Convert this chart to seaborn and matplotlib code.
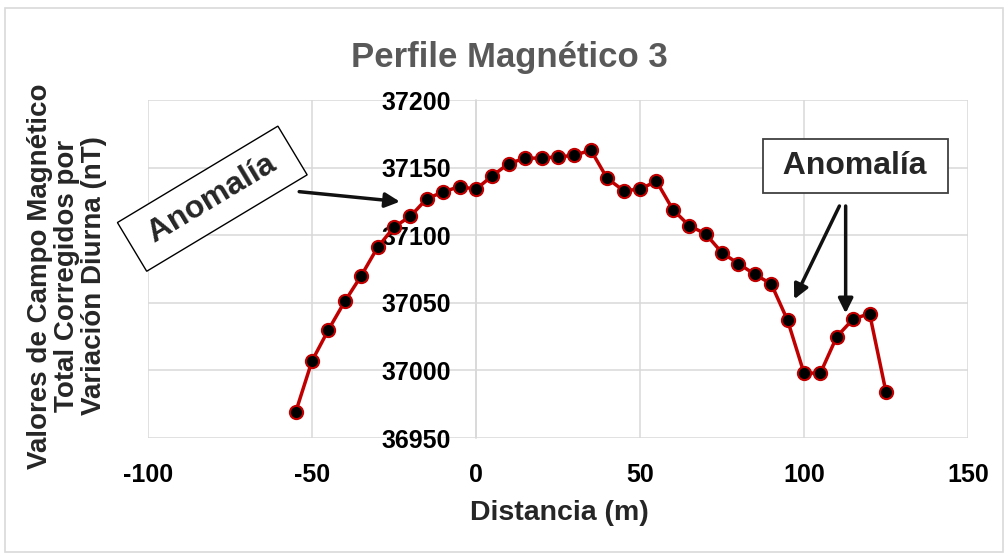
import numpy as np
import matplotlib
matplotlib.use('Agg')
import matplotlib.pyplot as plt
import seaborn as sns
from matplotlib.patches import Rectangle

# Perfil magnetico 3 - distancia (m) vs campo corregido (nT)
distancia = [-55, -50, -45, -40, -35, -30, -25, -20, -15, -10, -5, 0, 5, 10, 15,
             20, 25, 30, 35, 40, 45, 50, 55, 60, 65, 70, 75, 80, 85, 90, 95, 100,
             105, 110, 115, 120, 125]
campo = [36969, 37007, 37030, 37051, 37070, 37091, 37106, 37114, 37127, 37132,
         37136, 37134, 37144, 37153, 37157, 37157, 37158, 37159, 37163, 37142,
         37133, 37134, 37140, 37119, 37107, 37101, 37087, 37079, 37071, 37064,
         37037, 36998, 36998, 37025, 37038, 37042, 36984]

x_ticks = [-100, -50, 0, 50, 100, 150]
y_ticks = [36950, 37000, 37050, 37100, 37150, 37200]

titulo = 'Perfile Magnético 3'
x_label = 'Distancia (m)'
y_label = 'Valores de Campo Magnético\nTotal Corregidos por\nVariación Diurna (nT)'
nota = 'Anomalía'

sns.set_style('white')
plt.rcParams['font.family'] = ['Liberation Sans', 'DejaVu Sans']
plt.rcParams['font.weight'] = 'bold'
plt.rcParams['axes.unicode_minus'] = False

fig = plt.figure(figsize=(10.08, 5.56), dpi=100)
ax = fig.add_axes([148 / 1008, 1 - 438 / 556, 820 / 1008, 338 / 556])

sns.lineplot(x=distancia, y=campo, ax=ax, color='#C00000', linewidth=2.5,
             marker='o', markersize=9.5, markerfacecolor='black',
             markeredgecolor='#C00000', markeredgewidth=1.5, zorder=5)

ax.set_xlim(-100, 150)
ax.set_ylim(36950, 37200)
ax.set_xticks(x_ticks)
ax.set_yticks(y_ticks)
ax.grid(True, color='#d9d9d9', linewidth=1.1)
for s in ['top', 'right', 'bottom']:
    ax.spines[s].set_visible(False)
ax.spines['left'].set_position(('data', 0))
ax.spines['left'].set_color('#d9d9d9')
ax.spines['left'].set_linewidth(1.1)
ax.tick_params(axis='both', length=0, labelsize=18, colors='black')
ax.tick_params(axis='x', pad=18)
ax.tick_params(axis='y', pad=18)
for lab in ax.get_xticklabels() + ax.get_yticklabels():
    lab.set_fontweight('bold')
ax.set_xlabel('')
ax.set_ylabel('')

fig.text(509 / 1008, 1 - 57 / 556, titulo, ha='center', va='center',
         fontsize=25, fontweight='bold', color='#595959')
fig.text(559 / 1008, 1 - 513 / 556, x_label, ha='center', va='center',
         fontsize=20.5, fontweight='bold')
fig.text(67 / 1008, 1 - 276 / 556, y_label, ha='center', va='center',
         rotation=90, fontsize=20, fontweight='bold', linespacing=1.05,
         multialignment='center')

# anotaciones
ax.text(-80.4, 37127, ' ' + nota + ' ', rotation=31, rotation_mode='anchor',
        ha='center', va='center', fontsize=23, fontweight='bold', zorder=6,
        bbox=dict(boxstyle='square,pad=0.42', fc='white', ec='black', lw=1))
ax.annotate('', xy=(-23.2, 37124.8), xytext=(-53.9, 37132.2),
            arrowprops=dict(arrowstyle='-|>', color='#111111', lw=2.5,
                            mutation_scale=22, shrinkA=0, shrinkB=0), zorder=6)

ax.text(115.7, 37151, ' ' + nota + ' ', ha='center', va='center', fontsize=23,
        fontweight='bold', zorder=6,
        bbox=dict(boxstyle='square,pad=0.38', fc='white', ec='#404040', lw=1.3))
ax.annotate('', xy=(97.0, 37052.6), xytext=(110.8, 37121.6),
            arrowprops=dict(arrowstyle='-|>', color='#111111', lw=2.5,
                            mutation_scale=22, shrinkA=0, shrinkB=0), zorder=6)
ax.annotate('', xy=(112.7, 37042.2), xytext=(112.7, 37121.6),
            arrowprops=dict(arrowstyle='-|>', color='#111111', lw=2.5,
                            mutation_scale=22, shrinkA=0, shrinkB=0), zorder=6)

# borde del grafico
fig.patches.append(Rectangle((5 / 1008, 1 - 552 / 556), 998 / 1008, 544 / 556,
                             transform=fig.transFigure, fill=False,
                             edgecolor='#d9d9d9', linewidth=1.2))

fig.savefig('out.png', dpi=100)
